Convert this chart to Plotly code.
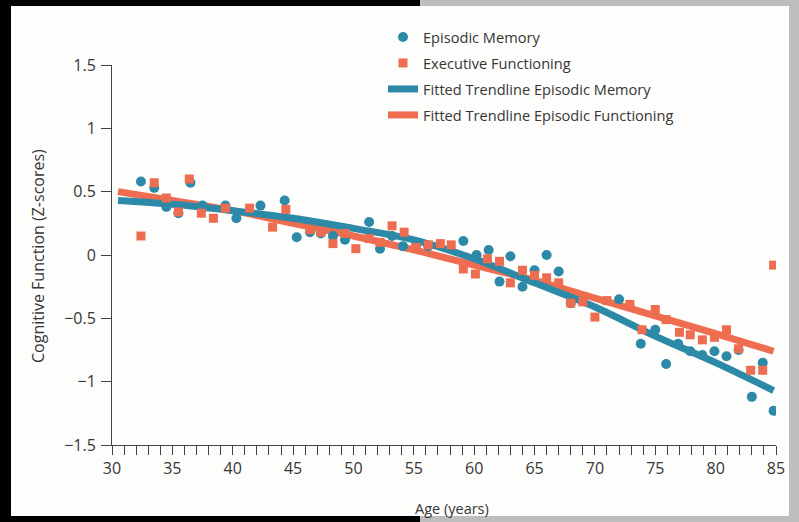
import plotly.graph_objects as go

# ---- data ----
em_age = [32.4, 33.5, 34.5, 35.5, 36.5, 37.5, 39.4, 40.3, 42.3, 44.3, 45.3, 46.4, 47.3, 48.3, 49.3,
          51.3, 52.2, 53.2, 54.1, 55.2, 56.2, 59.1, 60.2, 61.2, 62.1, 63.0, 64.0, 65.0, 66.0, 67.0,
          68.0, 72.0, 73.8, 75.0, 75.9, 76.9, 77.9, 78.9, 79.9, 80.9, 81.9, 83.0, 83.9, 84.8]
em_val = [0.58, 0.53, 0.38, 0.33, 0.57, 0.39, 0.39, 0.29, 0.39, 0.43, 0.14, 0.18, 0.17, 0.15, 0.12,
          0.26, 0.05, 0.15, 0.07, 0.08, 0.07, 0.11, 0.00, 0.04, -0.21, -0.01, -0.25, -0.12, 0.00, -0.13,
          -0.38, -0.35, -0.70, -0.59, -0.86, -0.70, -0.76, -0.79, -0.76, -0.80, -0.75, -1.12, -0.85, -1.23]

ex_age = [32.4, 33.5, 34.5, 35.5, 36.4, 37.4, 38.4, 39.4, 41.4, 43.3, 44.4, 46.4, 47.3, 48.3, 49.3,
          50.2, 51.3, 52.2, 53.2, 54.2, 55.2, 56.2, 57.2, 58.1, 59.1, 60.1, 61.1, 62.1, 63.0, 64.0,
          65.0, 66.0, 67.0, 68.0, 69.0, 70.0, 71.0, 72.9, 73.9, 75.0, 75.9, 77.0, 77.9, 78.9, 79.9,
          80.9, 81.9, 82.9, 83.9, 84.8]
ex_val = [0.15, 0.57, 0.45, 0.34, 0.60, 0.33, 0.29, 0.37, 0.37, 0.22, 0.36, 0.20, 0.18, 0.09, 0.17,
          0.05, 0.13, 0.10, 0.23, 0.18, 0.06, 0.08, 0.09, 0.08, -0.11, -0.15, -0.03, -0.05, -0.22, -0.12,
          -0.16, -0.18, -0.22, -0.38, -0.37, -0.49, -0.36, -0.39, -0.59, -0.43, -0.51, -0.61, -0.63, -0.67, -0.65,
          -0.59, -0.74, -0.91, -0.91, -0.08]

trend_age = [30.5, 35, 40, 45, 50, 55, 60, 65, 70, 75, 80, 84.8]
trend_em = [0.43, 0.40, 0.35, 0.29, 0.21, 0.12, -0.03, -0.22, -0.41, -0.64, -0.85, -1.07]
trend_ex = [0.50, 0.43, 0.35, 0.25, 0.15, 0.04, -0.08, -0.20, -0.34, -0.48, -0.62, -0.76]

x_ticks = [30, 35, 40, 45, 50, 55, 60, 65, 70, 75, 80, 85]
y_ticks = [-1.5, -1, -0.5, 0, 0.5, 1, 1.5]
y_ticktext = ["\u22121.5", "\u22121", "\u22120.5", "0", "0.5", "1", "1.5"]

BLUE = "#2c8aa8"
ORANGE = "#ee6c4f"
FONT = "Open Sans"
TXT = "#363636"

W, H = 799, 522
ML, MR, MT, MB = 112, 23, 65, 77

fig = go.Figure()
fig.add_trace(go.Scatter(x=trend_age, y=trend_ex, mode="lines", line=dict(color=ORANGE, width=7, shape="spline"),
                         name="Fitted Trendline Episodic Functioning", legendrank=4, legendgroup="d"))
fig.add_trace(go.Scatter(x=trend_age, y=trend_em, mode="lines", line=dict(color=BLUE, width=7, shape="spline"),
                         name="Fitted Trendline Episodic Memory", legendrank=3, legendgroup="c"))
fig.add_trace(go.Scatter(x=em_age, y=em_val, mode="markers",
                         marker=dict(symbol="circle", size=10, color=BLUE),
                         name="Episodic Memory", legendrank=1, legendgroup="a"))
fig.add_trace(go.Scatter(x=ex_age, y=ex_val, mode="markers",
                         marker=dict(symbol="square", size=9, color=ORANGE),
                         name="Executive Functioning", legendrank=2, legendgroup="b"))

pw, ph = W - ML - MR, H - MT - MB
def px2paper(x, y):
    return (x - ML) / pw, (H - MB - y) / ph

shapes = []
def rect(x0, y0, x1, y1, color):
    a0, b1 = px2paper(x0, y0)
    a1, b0 = px2paper(x1, y1)
    shapes.append(dict(type="rect", xref="paper", yref="paper", x0=a0, x1=a1, y0=b0, y1=b1,
                       fillcolor=color, line=dict(width=0), layer="above"))
rect(0, 0, 11, H, "#000000")
rect(0, 0, 420, 6, "#000000")
rect(420, 0, W, 6, "#bdbdbd")
rect(789, 0, W, H, "#bdbdbd")
rect(0, 516, 420, H, "#000000")
rect(420, 516, W, H, "#bdbdbd")

fig.update_layout(
    width=W, height=H,
    margin=dict(l=ML, r=MR, t=MT, b=MB),
    paper_bgcolor="#fdfdfb", plot_bgcolor="#fdfdfb",
    font=dict(family=FONT, size=14, color=TXT),
    showlegend=True,
    legend=dict(x=px2paper(383, 0)[0], y=px2paper(0, 21)[1], xanchor="left", yanchor="top",
                bgcolor="rgba(0,0,0,0)", font=dict(size=14.6, color=TXT),
                traceorder="grouped", tracegroupgap=4),
    shapes=shapes,
    annotations=[
        dict(text="Cognitive Function (Z-scores)", textangle=-90, xref="paper", yref="paper",
             x=px2paper(38, 0)[0], y=px2paper(0, 256)[1], showarrow=False,
             font=dict(size=16, color=TXT), xanchor="center", yanchor="middle"),
        dict(text="Age (years)", xref="paper", yref="paper",
             x=px2paper(452, 0)[0], y=px2paper(0, 508)[1], showarrow=False,
             font=dict(size=14.5, color=TXT), xanchor="center", yanchor="middle"),
    ],
)
fig.update_xaxes(range=[30, 85], tickvals=x_ticks, ticks="outside", ticklen=9, tickwidth=1,
                 tickcolor="#444", showline=True, linecolor="#444", linewidth=1,
                 showgrid=False, zeroline=False, tickfont=dict(size=16, color=TXT),
                 minor=dict(dtick=1, tick0=30, ticks="outside", ticklen=9, tickcolor="#444", tickwidth=1))
fig.update_yaxes(range=[-1.5, 1.5], tickvals=y_ticks, ticktext=y_ticktext, ticks="outside",
                 ticklen=10, tickwidth=1, tickcolor="#444", showline=True, linecolor="#444",
                 linewidth=1, showgrid=False, zeroline=False, tickfont=dict(size=16, color=TXT),
                 ticklabelstandoff=2)

fig.write_html("out.html")
